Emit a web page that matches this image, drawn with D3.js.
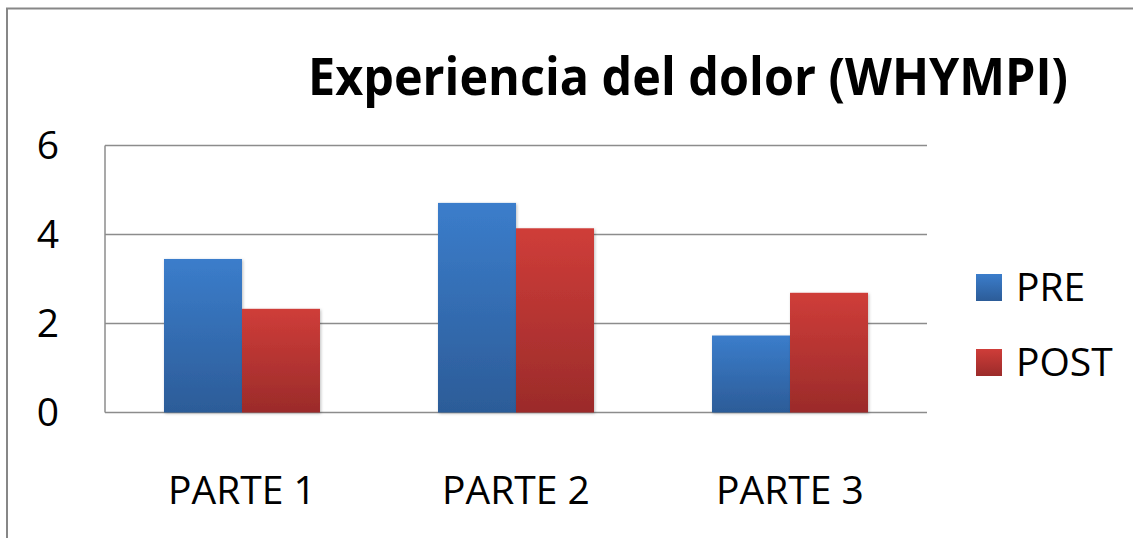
<!DOCTYPE html>
<html>
<head>
<meta charset="utf-8">
<script src="https://cdn.jsdelivr.net/npm/d3@7"></script>
<style>
  html, body { margin: 0; background: #fff; overflow: hidden; }
  svg { display: block; font-family: "Open Sans", sans-serif; }
</style>
</head>
<body>
<div id="chart"></div>
<script>
// Chart data
const categories = ['PARTE 1', 'PARTE 2', 'PARTE 3'];
const seriesNames = ['PRE', 'POST'];
const preValues = [3.45, 4.71, 1.73];
const postValues = [2.33, 4.14, 2.69];
const yTicks = [0, 2, 4, 6];
const titleText = 'Experiencia del dolor (WHYMPI)';

const width = 1133;
const height = 538;
const plot = { left: 105, right: 927, top: 145.5, bottom: 412.5 };

const svg = d3.select('#chart').append('svg')
    .attr('width', width)
    .attr('height', height);

// Gradients and shadow
const defs = svg.append('defs');
const colors = {
    PRE: ['#3b7dcb', '#2c5c98'],
    POST: ['#cf3d39', '#9b2b2a']
};
seriesNames.forEach(s => {
    const g = defs.append('linearGradient')
        .attr('id', 'grad-' + s)
        .attr('x1', 0).attr('y1', 0).attr('x2', 0).attr('y2', 1);
    g.append('stop').attr('offset', '0%').attr('stop-color', colors[s][0]);
    g.append('stop').attr('offset', '100%').attr('stop-color', colors[s][1]);
});
defs.append('filter')
    .attr('id', 'shadow')
    .attr('x', '-20%').attr('y', '-20%').attr('width', '140%').attr('height', '140%')
    .append('feDropShadow')
    .attr('dx', 1).attr('dy', 1).attr('stdDeviation', 1.5)
    .attr('flood-color', '#000').attr('flood-opacity', 0.25);

// Outer chart border (only left and top edges fall inside the picture)
svg.append('path')
    .attr('d', `M7,${height} V8.5 H${width}`)
    .attr('fill', 'none')
    .attr('stroke', '#878787')
    .attr('stroke-width', 2);

// Scales
const x0 = d3.scaleBand()
    .domain(categories)
    .range([plot.left, plot.right])
    .paddingInner(0.4307)
    .paddingOuter(0.2153);

const x1 = d3.scaleBand()
    .domain(seriesNames)
    .range([0, x0.bandwidth()]);

const y = d3.scaleLinear()
    .domain([0, 6])
    .range([plot.bottom, plot.top]);

// Gridlines
svg.append('g')
    .selectAll('line')
    .data(yTicks)
    .join('line')
    .attr('x1', plot.left).attr('x2', plot.right)
    .attr('y1', d => y(d)).attr('y2', d => y(d))
    .attr('stroke', '#8c8c8c')
    .attr('stroke-width', 1.5);

// Left axis line
svg.append('line')
    .attr('x1', plot.left).attr('x2', plot.left)
    .attr('y1', plot.top).attr('y2', plot.bottom)
    .attr('stroke', '#8c8c8c')
    .attr('stroke-width', 1.5);

// Y labels
svg.append('g')
    .selectAll('text')
    .data(yTicks)
    .join('text')
    .attr('x', 59)
    .attr('y', d => y(d))
    .attr('dy', '0.35em')
    .attr('text-anchor', 'end')
    .attr('font-size', 39)
    .attr('fill', '#000')
    .text(d => d);

// Bars
const data = categories.map((c, i) => ({ cat: c, values: [
    { s: 'PRE', v: preValues[i] },
    { s: 'POST', v: postValues[i] }
] }));

svg.append('g')
    .selectAll('g')
    .data(data)
    .join('g')
    .attr('transform', d => `translate(${x0(d.cat)},0)`)
    .selectAll('rect')
    .data(d => d.values)
    .join('rect')
    .attr('x', d => x1(d.s))
    .attr('y', d => y(d.v))
    .attr('width', x1.bandwidth())
    .attr('height', d => y(0) - y(d.v))
    .attr('fill', d => 'url(#grad-' + d.s + ')')
    .attr('filter', 'url(#shadow)');

// Category labels
svg.append('g')
    .selectAll('text')
    .data(categories)
    .join('text')
    .attr('x', d => x0(d) + x0.bandwidth() / 2)
    .attr('y', 504)
    .attr('text-anchor', 'middle')
    .attr('font-size', 39)
    .attr('fill', '#000')
    .text(d => d);

// Title
svg.append('text')
    .attr('x', 308)
    .attr('y', 95)
    .attr('font-size', 52)
    .attr('font-weight', 'bold')
    .attr('fill', '#000')
    .attr('textLength', 760)
    .attr('lengthAdjust', 'spacingAndGlyphs')
    .text(titleText);

// Legend
const legend = svg.append('g')
    .selectAll('g')
    .data(seriesNames)
    .join('g')
    .attr('transform', (d, i) => `translate(976,${274 + i * 75})`);

legend.append('rect')
    .attr('width', 26)
    .attr('height', 27)
    .attr('fill', d => 'url(#grad-' + d + ')');

legend.append('text')
    .attr('x', 40)
    .attr('y', 27)
    .attr('font-size', 39)
    .attr('fill', '#000')
    .text(d => d);
</script>
</body>
</html>
